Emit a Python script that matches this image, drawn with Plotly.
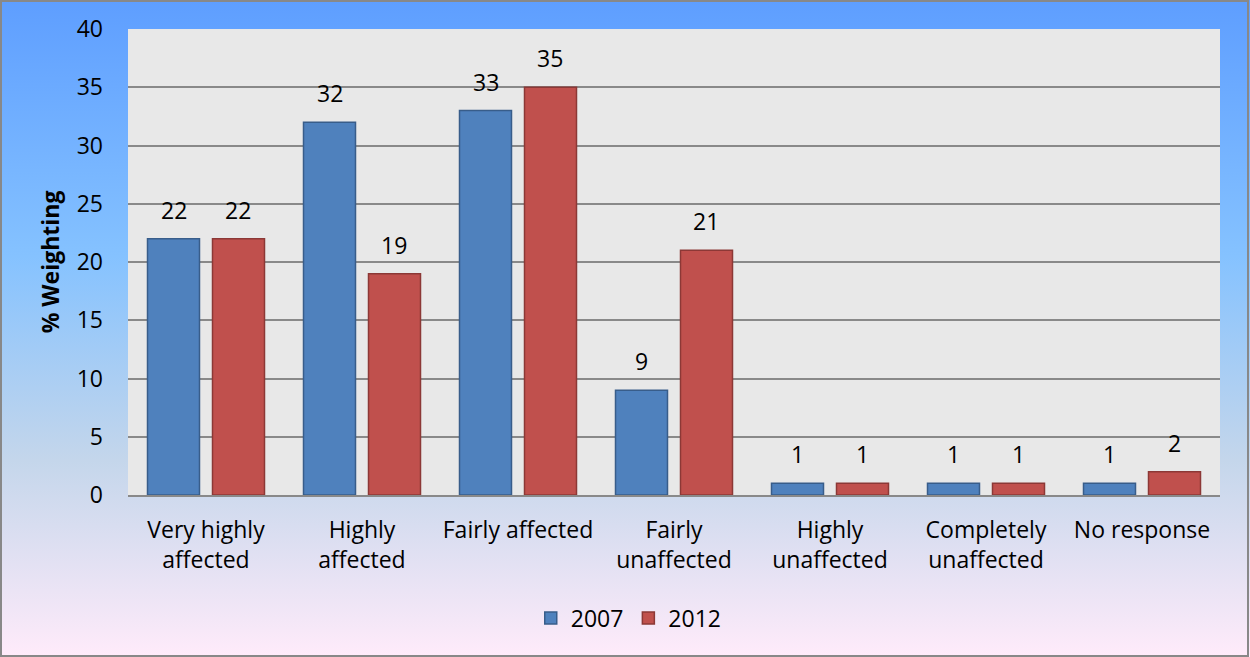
import base64
import plotly.graph_objects as go

# Survey responses: share of respondents per impact level
categories = ["Very highly<br>affected", "Highly<br>affected", "Fairly affected",
              "Fairly<br>unaffected", "Highly<br>unaffected", "Completely<br>unaffected",
              "No response"]
values_2007 = [22, 32, 33, 9, 1, 1, 1]
values_2012 = [22, 19, 35, 21, 1, 1, 2]
series_names = ["2007", "2012"]
y_ticks = [0, 5, 10, 15, 20, 25, 30, 35, 40]

W, H = 1250, 657
L, R, T, B = 128, 30, 29, 162
PW, PH = W - L - R, H - T - B
FONT = "Open Sans, Calibri, sans-serif"
FS = 23

def px_x(p):
    return (p - L) / PW

def px_y(p):
    return 1 - (p - T) / PH

# Vertical "daybreak" gradient for the chart background
svg = f"""<svg xmlns='http://www.w3.org/2000/svg' width='{W}' height='{H}' preserveAspectRatio='none'>
<defs><linearGradient id='g' x1='0' y1='0' x2='0' y2='1'>
<stop offset='0' stop-color='#5E9EFF'/><stop offset='0.39' stop-color='#85C2FF'/>
<stop offset='0.70' stop-color='#C4D6EB'/><stop offset='1' stop-color='#FFEBFA'/>
</linearGradient></defs><rect width='{W}' height='{H}' fill='url(#g)'/></svg>"""
bg_uri = "data:image/svg+xml;base64," + base64.b64encode(svg.encode()).decode()

fig = go.Figure()
fig.add_bar(x=categories, y=values_2007, name=series_names[0],
            marker=dict(color="#4F81BD", line=dict(color="#385D8A", width=1.5)))
fig.add_bar(x=categories, y=values_2012, name=series_names[1],
            marker=dict(color="#C0504D", line=dict(color="#8C3836", width=1.5)))

# Value labels above each bar
slot = PW / len(categories) * (1 - 0.1667) / 2
annotations = []
for vals, shift in ((values_2007, -slot / 2), (values_2012, slot / 2)):
    for c, v in zip(categories, vals):
        annotations.append(dict(x=c, y=v, xref="x", yref="y", text=str(v),
                                showarrow=False, yanchor="bottom", xshift=shift, yshift=11,
                                font=dict(family=FONT, size=FS, color="#000")))

fig.update_layout(
    width=W, height=H,
    margin=dict(l=L, r=R, t=T, b=B),
    paper_bgcolor="white",
    plot_bgcolor="rgba(0,0,0,0)",
    barmode="group", bargap=0.1667, bargroupgap=0.2,
    font=dict(family=FONT, size=FS, color="#000"),
    images=[dict(source=bg_uri, xref="paper", yref="paper",
                 x=px_x(0), y=px_y(0), sizex=W / PW, sizey=H / PH,
                 xanchor="left", yanchor="top", sizing="stretch", layer="below")],
    shapes=[
        dict(type="rect", xref="paper", yref="paper", x0=0, x1=1, y0=0, y1=1,
             fillcolor="#E8E8E8", line=dict(width=0), layer="below"),
        dict(type="rect", xref="paper", yref="paper",
             x0=px_x(1), x1=px_x(W - 2), y0=px_y(1), y1=px_y(H - 1),
             line=dict(color="#888888", width=2), layer="above"),
    ],
    annotations=annotations,
    legend=dict(orientation="h", xref="container", x=0.503, xanchor="center",
                yref="container", y=(H - 618) / H, yanchor="middle",
                font=dict(family=FONT, size=FS), bgcolor="rgba(0,0,0,0)"),
    xaxis=dict(showline=True, linecolor="#898989", linewidth=1.5, ticks="",
               ticklabelstandoff=14, tickfont=dict(size=FS)),
    yaxis=dict(range=[0, 40], tickvals=y_ticks, showgrid=True, gridcolor="#898989",
               gridwidth=1.5, zeroline=False, showline=False, ticks="",
               ticklabelstandoff=24, tickfont=dict(size=FS),
               title=dict(text="<b>% Weighting</b>", font=dict(size=FS), standoff=10)),
)

fig.write_html("out.html")
